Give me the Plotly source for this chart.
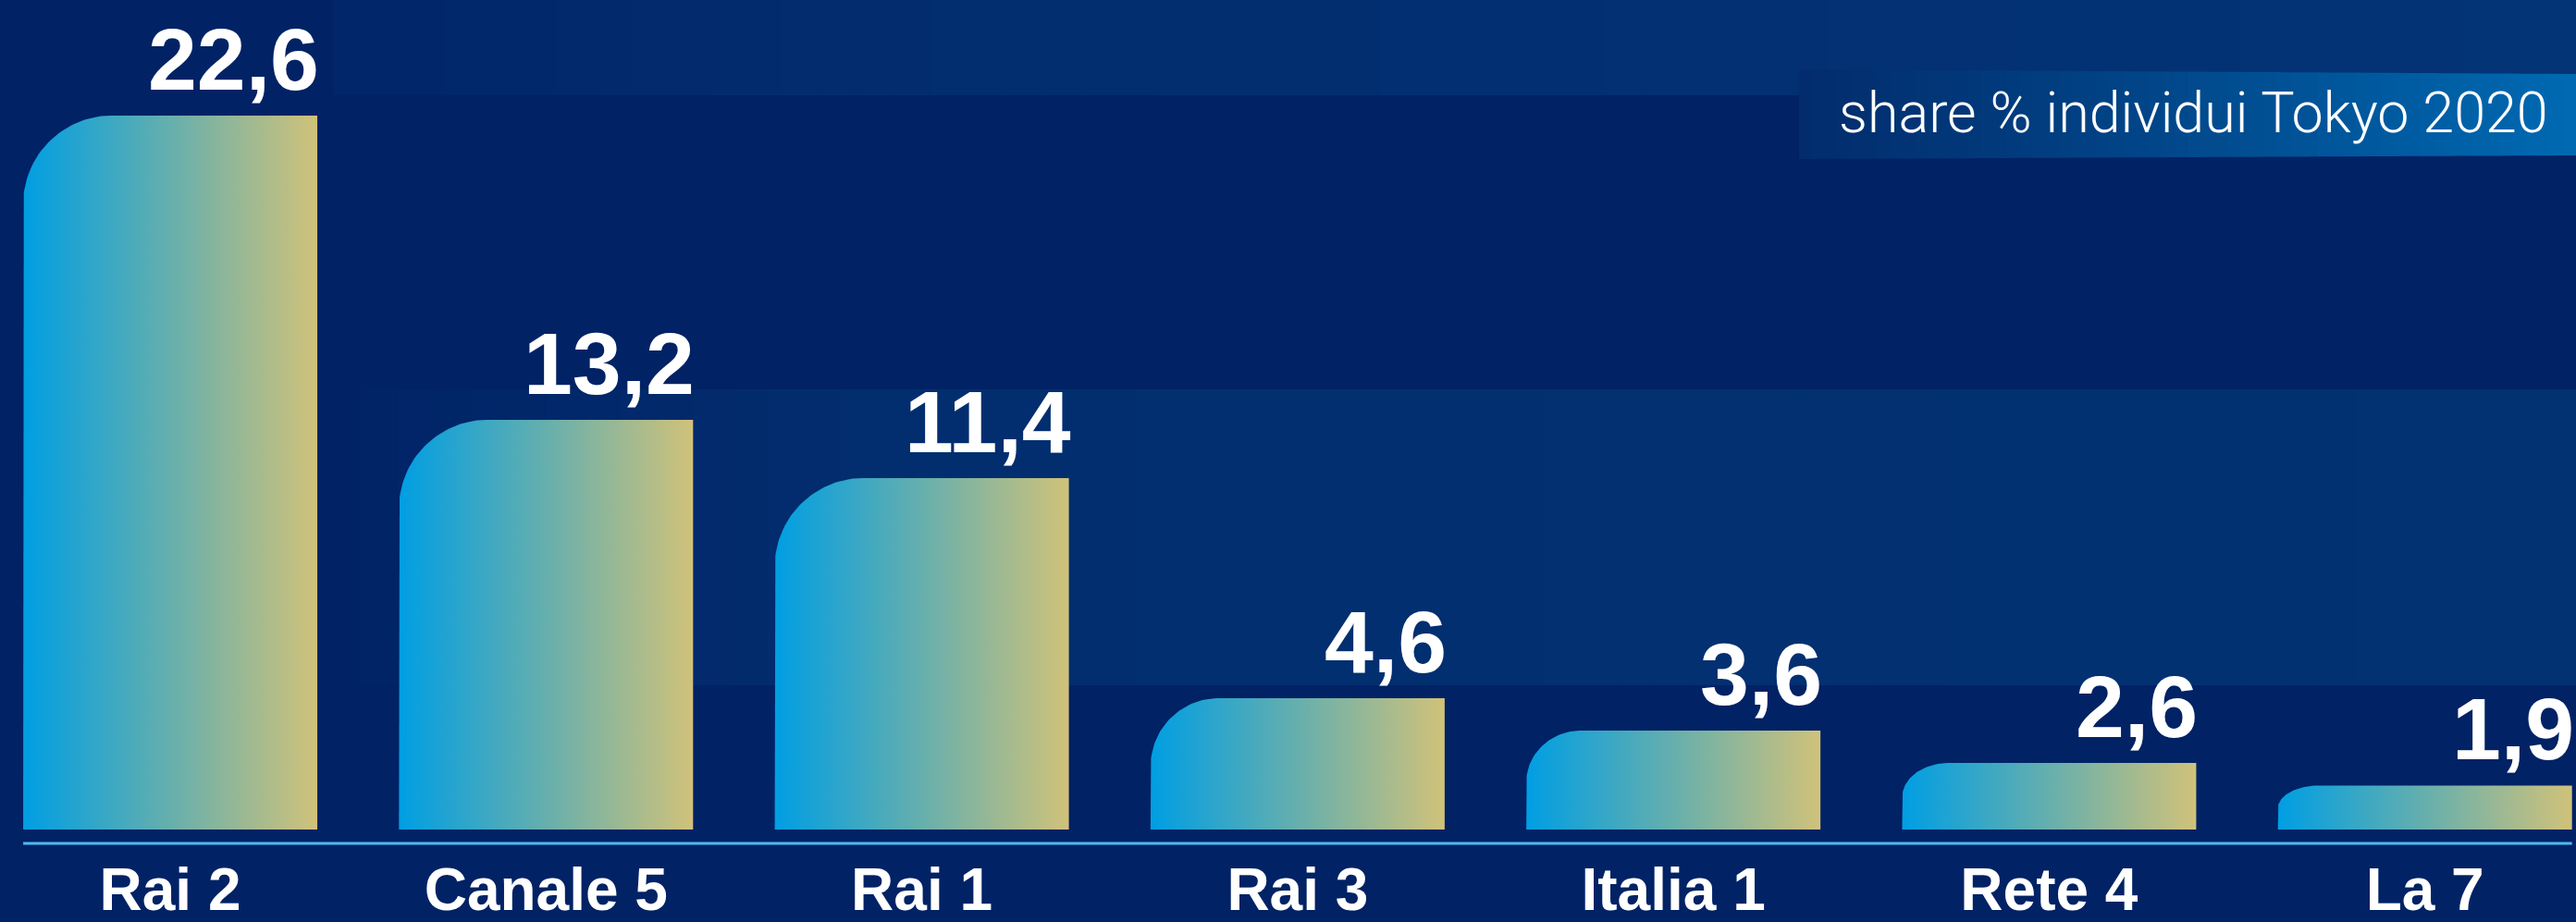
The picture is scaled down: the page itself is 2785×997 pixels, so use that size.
import numpy as np
import plotly.graph_objects as go

# ---------------- data ----------------
categories = ["Rai 2", "Canale 5", "Rai 1", "Rai 3", "Italia 1", "Rete 4", "La 7"]
share = [22.6, 13.2, 11.4, 4.6, 3.6, 2.6, 1.9]
subtitle = "share % individui Tokyo 2020"

# ---------------- layout constants ----------------
W, H = 2785, 997
MB = 100                       # bottom margin
PLOT_H = H - MB
X_RANGE = [-0.453, 6.402]
Y_MIN = 0.54
PX_PER_Y = 35.0
Y_RANGE = [Y_MIN, Y_MIN + PLOT_H / PX_PER_Y]
PX_PER_X = W / (X_RANGE[1] - X_RANGE[0])
HALF_W = 159 / PX_PER_X        # bar half width in x units

BG = (1, 34, 101)
BAR_SCALE = [[0.0, "#009ee3"], [0.5, "#66afad"], [1.0, "#d0c27a"]]

fig = go.Figure()

# ---------------- bars (rounded top-left corner, horizontal gradient) ----------------
for i, (cat, v) in enumerate(zip(categories, share)):
    x0, x1 = i - HALF_W, i + HALF_W
    h_px = (v - Y_MIN) * PX_PER_Y
    ry_px = min(96.0, 0.52 * h_px)
    rx_px = max(ry_px, 0.5 * ry_px + 32)
    rx = rx_px / PX_PER_X
    ry = ry_px / PX_PER_Y
    t = np.linspace(np.pi, np.pi / 2, 40)
    cx, cy = x0 + rx, v - ry
    arc_x = cx + rx * np.cos(t)
    arc_y = cy + ry * np.sin(t)
    xs = [x0] + list(arc_x) + [x1, x1, x0]
    ys = [Y_MIN] + list(arc_y) + [v, Y_MIN, Y_MIN]
    fig.add_trace(go.Scatter(
        x=xs, y=ys, mode="lines", fill="toself",
        fillgradient=dict(type="horizontal", colorscale=BAR_SCALE),
        line=dict(width=0, color="rgba(0,0,0,0)"),
        hoverinfo="skip", showlegend=False, name=cat,
    ))
    fig.add_annotation(
        x=x1, y=v, xref="x", yref="y", xanchor="right", yanchor="bottom",
        text=f"{v:.1f}".replace(".", ","), showarrow=False, yshift=6, xshift=4,
        font=dict(family="Liberation Sans, Arial, sans-serif", size=95, color="white", weight="bold"),
    )

# ---------------- background gradient bands (shapes) ----------------
def px2paper(xp, yp):
    return xp / W, 1 - yp / PLOT_H


def rgb(c):
    return "rgb(%d,%d,%d)" % tuple(int(round(a)) for a in c)


def mix(c0, c1, t):
    return tuple(a + (b - a) * t for a, b in zip(c0, c1))


shapes = []


def grad_band(x0, x1, yt0, yt1, yb0, yb1, stops, n=60):
    # stops: list of (x_px, color)
    xs = np.linspace(x0, x1, n + 1)
    for k in range(n):
        xa, xb = xs[k], xs[k + 1] + 0.8
        xm = 0.5 * (xs[k] + xs[k + 1])
        col = stops[-1][1]
        for (sa, ca), (sb, cb) in zip(stops[:-1], stops[1:]):
            if sa <= xm <= sb:
                col = mix(ca, cb, (xm - sa) / (sb - sa))
                break
        fa = (xa - x0) / (x1 - x0)
        fb = (xb - x0) / (x1 - x0)
        ta, tb = yt0 + (yt1 - yt0) * fa, yt0 + (yt1 - yt0) * fb
        ba, bb = yb0 + (yb1 - yb0) * fa, yb0 + (yb1 - yb0) * fb
        p = [px2paper(xa, ta), px2paper(xb, tb), px2paper(xb, bb), px2paper(xa, ba)]
        path = "M %f,%f L %f,%f L %f,%f L %f,%f Z" % (p[0] + p[1] + p[2] + p[3])
        shapes.append(dict(type="path", xref="paper", yref="paper", path=path,
                           fillcolor=rgb(col), line=dict(width=0), layer="below"))


# top band
grad_band(360, W, -2, -2, 103, 103,
          [(360, (1, 38, 105)), (900, (2, 44, 110)), (W, (3, 52, 118))])
# middle band
grad_band(390, W, 421, 421, 741, 741,
          [(390, (1, 36, 103)), (1000, (2, 46, 111)), (W, (2, 50, 114))])
# subtitle box
grad_band(1945, W, 75, 80, 172, 168,
          [(1945, (2, 44, 108)), (2250, (1, 64, 130)), (W, (0, 106, 178))])

# baseline
shapes.append(dict(type="line", xref="x", yref="paper",
                   x0=-HALF_W, x1=len(categories) - 1 + HALF_W,
                   y0=-15 / PLOT_H, y1=-15 / PLOT_H,
                   line=dict(color="#4fbaf2", width=3), layer="above"))

# subtitle text
fig.add_annotation(
    x=2757 / W, y=1 - 160 / PLOT_H, xref="paper", yref="paper",
    xanchor="right", yanchor="bottom", text=subtitle, showarrow=False,
    font=dict(family="Roboto, Liberation Sans, sans-serif", size=61, color="white", weight=300),
)

fig.update_layout(
    width=W, height=H,
    margin=dict(l=0, r=0, t=0, b=MB, pad=0, autoexpand=False),
    paper_bgcolor=rgb(BG), plot_bgcolor="rgba(0,0,0,0)",
    shapes=shapes, showlegend=False,
    xaxis=dict(range=X_RANGE, tickvals=list(range(len(categories))), ticktext=categories,
               showgrid=False, zeroline=False, showline=False, ticks="",
               ticklabelstandoff=22, fixedrange=True, automargin=False,
               tickfont=dict(family="Liberation Sans, Arial, sans-serif", size=64,
                             color="white", weight="bold")),
    yaxis=dict(range=Y_RANGE, visible=False, showgrid=False, zeroline=False,
               fixedrange=True, automargin=False),
)

fig.write_html(
    "out.html",
    config={"displayModeBar": False},
    post_script="document.body.style.margin='0';document.body.style.overflow='hidden';",
)
